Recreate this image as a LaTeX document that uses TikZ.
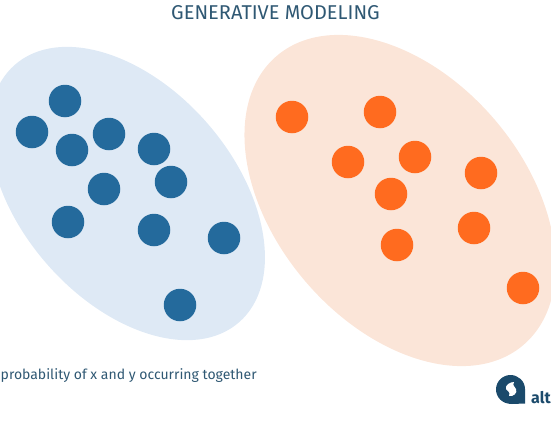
\documentclass[tikz,border=0pt]{standalone}
\usepackage{fontspec}
\setmainfont{Fira Sans}
\definecolor{blueblob}{HTML}{DEE9F5}
\definecolor{orangeblob}{HTML}{FBE5D8}
\definecolor{bluedot}{HTML}{246A9C}
\definecolor{orangedot}{HTML}{FF6B1F}
\definecolor{txt}{HTML}{2F5873}
\definecolor{logo}{HTML}{1B4A6B}
\tikzset{
  bdot/.style={circle,fill=bluedot,minimum size=32.5pt,inner sep=0pt},
  odot/.style={circle,fill=orangedot,minimum size=32.5pt,inner sep=0pt}
}
\begin{document}
\begin{tikzpicture}[x=1pt,y=-1pt]
\useasboundingbox (0,0) rectangle (551,431);
\begin{scope}
\clip (0,0) rectangle (551,431);
\fill[blueblob,rotate around={-49:(127,193.5)}] (127,193.5) ellipse [x radius=170.7,y radius=106.7];
\fill[orangeblob,rotate around={-49.5:(400,200.5)}] (400,200.5) ellipse [x radius=190,y radius=124.5];
\foreach \n/\x/\y in {a/65/101,b/32/132,c/72/150,d/109/134,e/154/149,f/171/182,g/104/189,h/68/222,i/154/230,j/224/238,k/180/305}
  \node[bdot] (\n) at (\x,\y) {};
\foreach \n/\x/\y in {l/292/117,m/380/112,n/348/162,o/415/157,p/481/173,q/391/194,r/474/228,s/397/245,t/523/288}
  \node[odot] (\n) at (\x,\y) {};
\node[text=txt,font=\fontsize{20}{22}\selectfont,anchor=base] (title) at (275.5,19) {GENERATIVE MODELING};
\node[text=txt,font=\fontsize{14}{16}\selectfont,anchor=base west,inner sep=0pt] (cap) at (0.5,379) {probability of x and y occurring together};
\node[text=logo,font=\fontsize{16}{18}\selectfont\bfseries,anchor=base west,inner sep=0pt] (alt) at (531,403) {alt};
\fill[logo] (525,403.5) -- (512,404) .. controls (502,404) and (496,397) .. (496,389.5) .. controls (496,381) and (503,375) .. (510.5,375) .. controls (518,375) and (525,381) .. (525,389) -- cycle;
\fill[white] (514,382) .. controls (510,382) and (505,385) .. (506,389) .. controls (507,392) and (511,391) .. (509,396) .. controls (513,397) and (518,393) .. (516,389) .. controls (515,386) and (512,386) .. (514,382) -- cycle;
\end{scope}
\end{tikzpicture}
\end{document}
